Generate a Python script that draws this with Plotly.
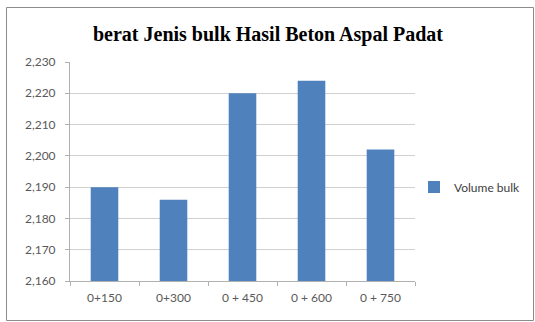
import plotly.graph_objects as go

categories = ["0+150", "0+300", "0 + 450", "0 + 600", "0 + 750"]
volume_bulk = [2.190, 2.186, 2.220, 2.224, 2.202]
series_name = "Volume bulk"
title_text = "berat Jenis bulk Hasil Beton Aspal Padat"

W, H = 535, 322
L, R, T, B = 70, 120, 62, 41
pw, ph = W - L - R, H - T - B

def px_x(x):
    return (x - L) / pw

def px_y(y):
    return (H - B - y) / ph

fig = go.Figure()
fig.add_trace(go.Bar(x=categories, y=volume_bulk, name=series_name,
                     marker=dict(color="#4F81BD", line=dict(width=0))))

fig.update_layout(
    width=W, height=H,
    margin=dict(l=L, r=R, t=T, b=B, autoexpand=False),
    paper_bgcolor="white", plot_bgcolor="white",
    separators=",.",
    bargap=0.6,
    showlegend=True,
    title=dict(text="<b>" + title_text + "</b>", x=268 / W, xanchor="center",
               xref="container",
               y=1 - 34 / H, yanchor="middle",
               font=dict(family="Liberation Serif", size=20, color="#000000")),
    legend=dict(xref="container", yref="container",
                x=414 / W, xanchor="left", y=1 - 187 / H, yanchor="middle",
                font=dict(family="Lato", size=12, color="#404040"),
                bgcolor="rgba(0,0,0,0)", itemwidth=30),
    font=dict(family="Lato", size=12, color="#595959"),
)

fig.update_yaxes(range=[2.16, 2.23], dtick=0.01, tickformat=".3f",
                 showgrid=True, gridcolor="#D0D0D0", gridwidth=1,
                 showline=True, linecolor="#B0B0B0", linewidth=1,
                 ticks="outside", ticklen=4, tickcolor="#B0B0B0",
                 ticklabelstandoff=7,
                 tickfont=dict(family="Lato", size=12, color="#595959"),
                 zeroline=False)
fig.update_xaxes(showline=True, linecolor="#B0B0B0", linewidth=1,
                 ticks="outside", ticklen=4, tickcolor="#B0B0B0",
                 tickson="boundaries", ticklabelstandoff=6,
                 tickfont=dict(family="Lato", size=12, color="#595959"))

fig.add_shape(type="rect", xref="paper", yref="paper",
              x0=px_x(6.5), x1=px_x(533.5), y0=px_y(320.5), y1=px_y(7.5),
              line=dict(color="#8C8C8C", width=1), fillcolor="rgba(0,0,0,0)",
              layer="below")

fig.write_html("out.html")
